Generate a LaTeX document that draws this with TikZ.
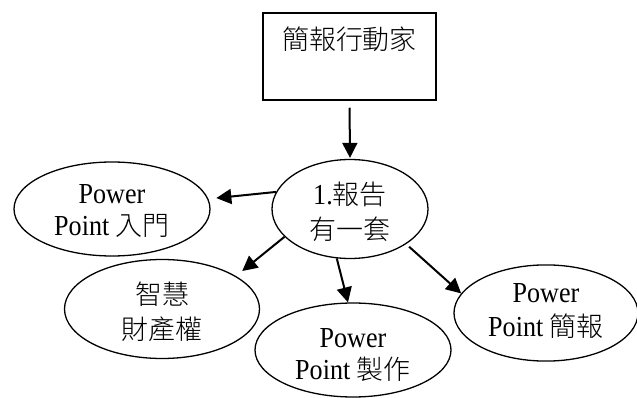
\documentclass[tikz,border=0pt]{standalone}
\usepackage{fontspec}
\setmainfont{Liberation Serif}[FakeStretch=0.9]
\newfontfamily\cjk{Noto Sans CJK TC Light}[Scale=0.93]
\usetikzlibrary{arrows.meta,shapes.geometric}
\newcommand{\shiftedtext}[2]{\raisebox{#1}[\height][\depth]{\begin{tabular}{@{}c@{}}#2\end{tabular}}}
\tikzset{
  topic/.style={draw, ellipse, line width=1.3pt, inner sep=0pt, font=\fontsize{29}{32}\selectfont},
  titlebox/.style={draw, rectangle, line width=1.5pt, inner sep=0pt, font=\fontsize{29}{34}\selectfont},
  link/.style={line width=2pt, -{Triangle[length=15pt,width=15pt]}}
}
\begin{document}
\begin{tikzpicture}[x=1pt,y=-1pt]
\useasboundingbox (0,0) rectangle (637,398);
\node[titlebox, minimum width=173pt, minimum height=87pt] (top) at (349.5,56.5) {\shiftedtext{14pt}{\cjk 簡報行動家}};
\node[topic, minimum width=156pt, minimum height=94pt, font=\fontsize{29}{35}\selectfont] (c) at (350,209) {\shiftedtext{-6pt}{1.{\cjk 報告}\\{\cjk 有一套}}};
\node[topic, minimum width=196pt, minimum height=94pt] (l) at (112,209) {\shiftedtext{-4pt}{Power\\Point {\cjk 入門}}};
\node[topic, minimum width=195pt, minimum height=95pt, font=\fontsize{29}{35}\selectfont] (s) at (162,309) {\shiftedtext{-6pt}{{\cjk 智慧}\\{\cjk 財產權}}};
\node[topic, minimum width=196pt, minimum height=94pt] (m) at (353,350) {\shiftedtext{-7pt}{Power\\Point {\cjk 製作}}};
\node[topic, minimum width=184pt, minimum height=90pt, font=\fontsize{29}{34}\selectfont] (r) at (546,313) {\shiftedtext{0pt}{Power\\Point {\cjk 簡報}}};
\draw[link, shorten <=7pt, shorten >=1pt] (top.south) -- (c.north);
\draw[link, shorten >=8pt] (c.167) -- (l.6.6);
\draw[link, shorten >=8pt] (c.203) -- (s.24);
\draw[link] (c.255) -- (m.96.6);
\draw[link, shorten <=4pt] (c.328) -- (r.167);
\end{tikzpicture}
\end{document}
